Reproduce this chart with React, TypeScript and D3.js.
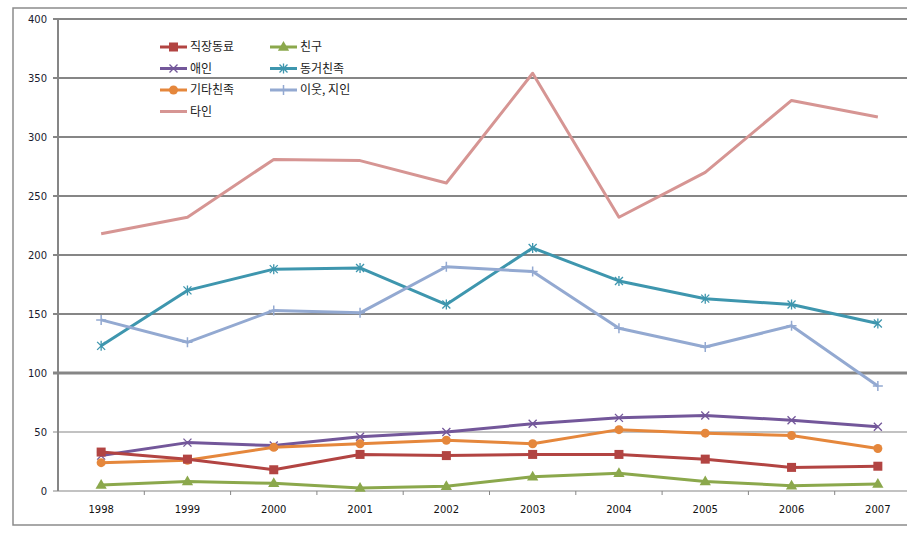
import React from "react";
import * as d3 from "d3";

const years = ["1998", "1999", "2000", "2001", "2002", "2003", "2004", "2005", "2006", "2007"];
const yTicks = [0, 50, 100, 150, 200, 250, 300, 350, 400];

const coworker = [33, 27, 18, 31, 30, 31, 31, 27, 20, 21]; // 직장동료
const friend = [5, 8, 6.5, 2.5, 4, 12, 15, 8, 4.5, 6]; // 친구
const lover = [30, 41, 38.5, 46, 50, 57, 62, 64, 60, 54.5]; // 애인
const cohabiting = [123, 170, 188, 189, 158, 206, 178, 163, 158, 142]; // 동거친족
const otherKin = [24, 26, 37, 40, 43, 40, 52, 49, 47, 36]; // 기타친족
const neighbor = [145, 126, 153, 151, 190, 186, 138, 122, 140, 89]; // 이웃, 지인
const stranger = [218, 232, 281, 280, 261, 354, 232, 270, 331, 317]; // 타인

const seriesNames = ["직장동료", "친구", "애인", "동거친족", "기타친족", "이웃, 지인", "타인"];
const seriesColors = ["#B24442", "#8BA84C", "#73579A", "#3E96AE", "#E5873C", "#93A9D1", "#D69593"];
const seriesMarkers = ["square", "triangle", "x", "star", "circle", "plus", "none"];
const seriesData = [coworker, friend, lover, cohabiting, otherKin, neighbor, stranger];

const W = 916;
const H = 539;
const LEFT = 58;
const RIGHT_CLIP = 907;
const x = d3.scaleBand<string>().domain(years).range([LEFT, 921]).padding(0);
const y = d3.scaleLinear().domain([0, 400]).range([491, 19]);
const cx = (yr: string) => (x(yr) as number) + x.bandwidth() / 2;

function Marker({ kind, px, py, color }: { kind: string; px: number; py: number; color: string }) {
  if (kind === "square") return <rect x={px - 4.5} y={py - 4.5} width={9} height={9} fill={color} />;
  if (kind === "circle") return <circle cx={px} cy={py} r={4.5} fill={color} />;
  if (kind === "triangle") {
    const p = d3.symbol().type(d3.symbolTriangle).size(55)();
    return <path d={p as string} transform={`translate(${px},${py + 0.5})`} fill={color} />;
  }
  if (kind === "x")
    return (
      <path d={`M${px - 4},${py - 4}L${px + 4},${py + 4}M${px - 4},${py + 4}L${px + 4},${py - 4}`} stroke={color} strokeWidth={1.3} />
    );
  if (kind === "star")
    return (
      <path
        d={`M${px - 4},${py - 4}L${px + 4},${py + 4}M${px - 4},${py + 4}L${px + 4},${py - 4}M${px},${py - 5}L${px},${py + 5}`}
        stroke={color}
        strokeWidth={1.3}
      />
    );
  if (kind === "plus")
    return <path d={`M${px - 5},${py}L${px + 5},${py}M${px},${py - 5}L${px},${py + 5}`} stroke={color} strokeWidth={1.5} />;
  return null;
}

export default function App() {
  const line = d3
    .line<number>()
    .x((_, i) => cx(years[i]))
    .y((d) => y(d));

  const gridW = (v: number) => (v === 100 ? 3 : v === 0 || v === 50 ? 1.2 : 2);

  const legendPos = [
    [160, 47],
    [270, 47],
    [160, 68.5],
    [270, 68.5],
    [160, 90],
    [270, 90],
    [160, 111.5],
  ];

  const drawOrder = [6, 3, 5, 2, 4, 0, 1];

  return (
    <svg width={W} height={H} style={{ position: "absolute", left: 0, top: 0, background: "#fff" }}>
      <defs>
        <clipPath id="plotclip">
          <rect x={0} y={0} width={RIGHT_CLIP} height={H} />
        </clipPath>
      </defs>
      {/* outer frame */}
      <path d={`M${RIGHT_CLIP},8H13V525H${RIGHT_CLIP}`} fill="none" stroke="#8c8c8c" strokeWidth={1.5} />
      {/* gridlines */}
      {yTicks.map((v) => (
        <g key={v}>
          <line x1={53} x2={RIGHT_CLIP} y1={y(v)} y2={y(v)} stroke="#868686" strokeWidth={gridW(v)} />
          <text
            x={47}
            y={y(v)}
            dy="0.35em"
            textAnchor="end"
            fontFamily="Verdana, 'DejaVu Sans', sans-serif"
            fontSize={10}
            fill="#1a1a2e"
          >
            {v}
          </text>
        </g>
      ))}
      {/* y axis */}
      <line x1={LEFT} x2={LEFT} y1={y(400) - 1} y2={y(0)} stroke="#868686" strokeWidth={2} />
      {/* x ticks */}
      <g clipPath="url(#plotclip)">
        {years.map((yr) => (
          <line key={yr} x1={(x(yr) as number) + x.bandwidth()} x2={(x(yr) as number) + x.bandwidth()} y1={y(0)} y2={y(0) + 4} stroke="#868686" strokeWidth={1} />
        ))}
      </g>
      {years.map((yr) => (
        <text
          key={yr}
          x={cx(yr)}
          y={509}
          dy="0.35em"
          textAnchor="middle"
          fontFamily="Verdana, 'DejaVu Sans', sans-serif"
          fontSize={10}
          fill="#111"
        >
          {yr}
        </text>
      ))}
      {/* series */}
      {drawOrder.map((si) => (
        <g key={si}>
          <path d={line(seriesData[si]) as string} fill="none" stroke={seriesColors[si]} strokeWidth={3} strokeLinejoin="round" />
          {seriesData[si].map((v, i) => (
            <Marker key={i} kind={seriesMarkers[si]} px={cx(years[i])} py={y(v)} color={seriesColors[si]} />
          ))}
        </g>
      ))}
      {/* legend */}
      {seriesNames.map((name, si) => {
        const [lx, ly] = legendPos[si];
        return (
          <g key={name}>
            <line x1={lx} x2={lx + 27} y1={ly} y2={ly} stroke={seriesColors[si]} strokeWidth={3} />
            <Marker kind={seriesMarkers[si]} px={lx + 13.5} py={ly} color={seriesColors[si]} />
            <text
              x={lx + 30}
              y={ly}
              dy="0.35em"
              fontFamily="'Noto Sans CJK KR', sans-serif"
              fontSize={12}
              fill="#1a1a1a"
            >
              {name}
            </text>
          </g>
        );
      })}
    </svg>
  );
}
